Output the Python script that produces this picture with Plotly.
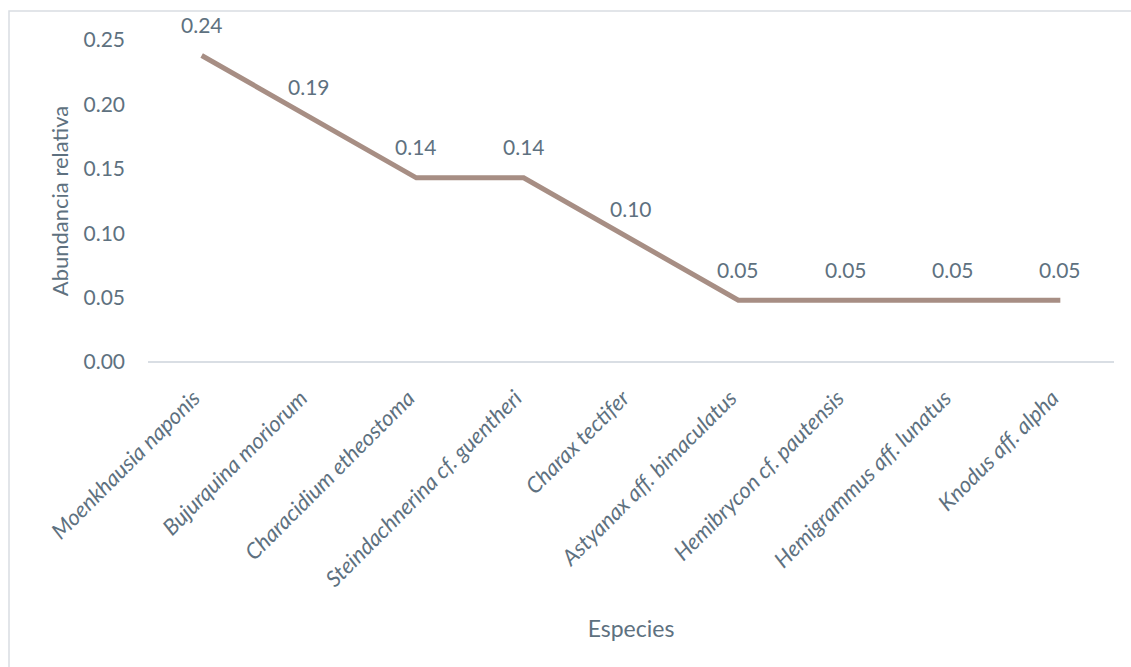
import plotly.graph_objects as go

# Relative abundance per species
especies = [
    "Moenkhausia naponis",
    "Bujurquina moriorum",
    "Characidium etheostoma",
    "Steindachnerina cf. guentheri",
    "Charax tectifer",
    "Astyanax aff. bimaculatus",
    "Hemibrycon cf. pautensis",
    "Hemigrammus aff. lunatus",
    "Knodus aff. alpha",
]
abundancia = [0.238, 0.190, 0.143, 0.143, 0.095, 0.048, 0.048, 0.048, 0.048]
y_ticks = [0.00, 0.05, 0.10, 0.15, 0.20, 0.25]

W, H = 1131, 667
L, R, T, B = 148, 17, 40, 305
pw, ph = W - L - R, H - T - B

TXT = "#5E7180"
LINE = "#A78E84"
FONT = "Lato"

fig = go.Figure()
fig.add_trace(go.Scatter(
    x=especies,
    y=abundancia,
    mode="lines",
    line=dict(color=LINE, width=5),
    hoverinfo="skip",
    showlegend=False,
    cliponaxis=False,
))

# value labels above each point
for name, val in zip(especies, abundancia):
    fig.add_annotation(
        x=name, y=val, text=f"{val:.2f}", showarrow=False,
        yshift=31, font=dict(family=FONT, size=21, color=TXT),
    )

# outer frame (left and top edges visible)
fig.add_shape(
    type="rect", xref="paper", yref="paper",
    x0=(9 - L) / pw, x1=(W + 10 - L) / pw,
    y0=-(H + 10 - T - ph) / ph, y1=1 + (T - 11) / ph,
    line=dict(color="#D9DDE2", width=1.5), fillcolor="rgba(0,0,0,0)",
    layer="below",
)

fig.update_layout(
    width=W, height=H,
    margin=dict(l=L, r=R, t=T, b=B),
    paper_bgcolor="white", plot_bgcolor="white",
    font=dict(family=FONT, color=TXT),
    xaxis=dict(
        type="category",
        range=[-0.5, len(especies) - 0.5],
        showgrid=False, zeroline=False,
        showline=False,
        ticks="", tickangle=-45,
        tickfont=dict(family=FONT, size=22, color=TXT, style="italic"),
        ticklabelstandoff=18,
        ticklabelshift=-8,
        title=dict(text="Especies", font=dict(family=FONT, size=23, color=TXT), standoff=30),
    ),
    yaxis=dict(
        range=[0, 0.25],
        tickvals=y_ticks,
        tickformat=".2f",
        showgrid=False,
        zeroline=True, zerolinecolor="#D9DEE4", zerolinewidth=1.5,
        showline=False, ticks="",
        tickfont=dict(family=FONT, size=21, color=TXT),
        ticklabelstandoff=22,
        title=dict(text="Abundancia relativa", font=dict(family=FONT, size=22, color=TXT), standoff=8),
    ),
)

fig.write_html("out.html")
